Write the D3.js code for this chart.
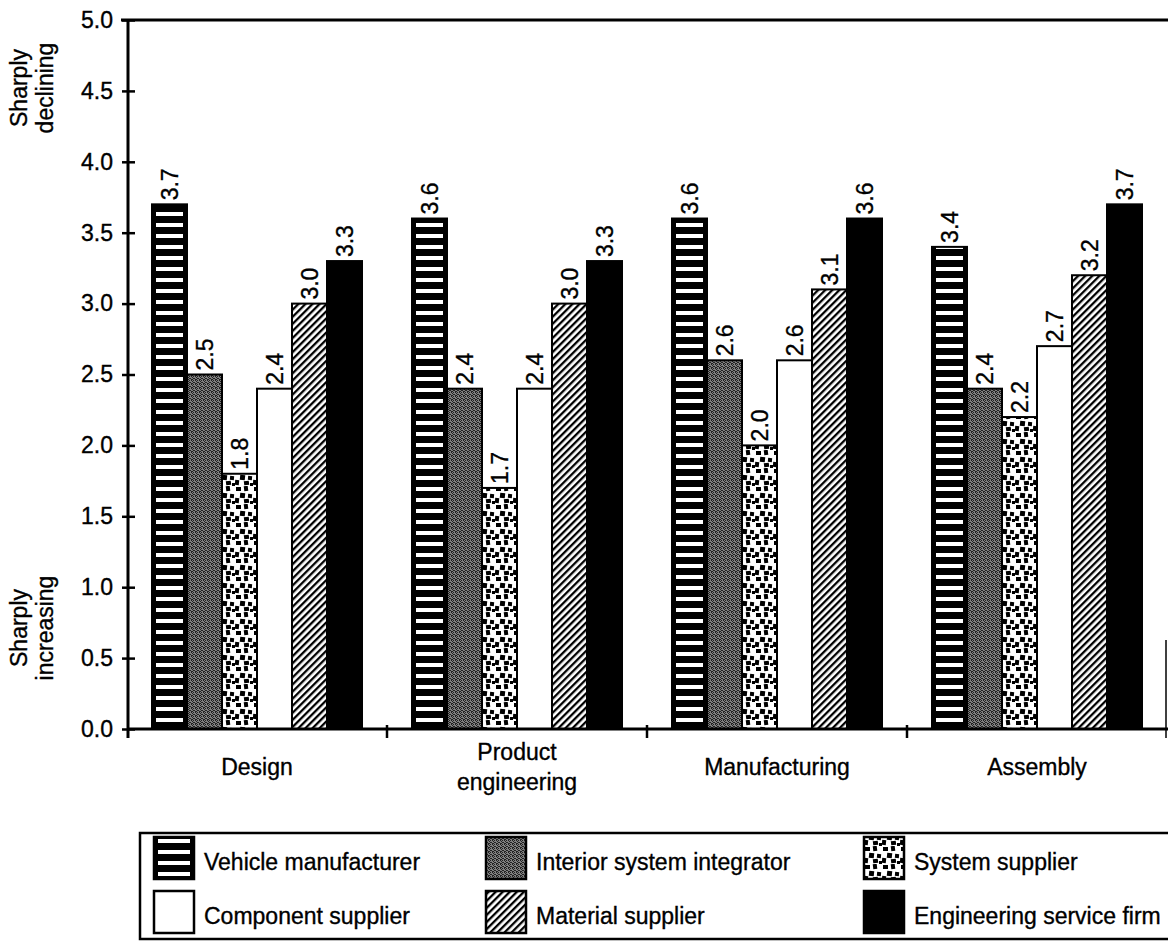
<!DOCTYPE html>
<html>
<head>
<meta charset="utf-8">
<script src="https://cdn.jsdelivr.net/npm/d3@7"></script>
<style>
  html, body { margin: 0; padding: 0; background: #fff; }
  svg { display: block; }
  text { font-family: "Liberation Sans", Arial, Helvetica, sans-serif; fill: #000; stroke: #000; stroke-width: 0.35px; }
</style>
</head>
<body>
<svg id="chart" width="1168" height="941"></svg>
<script>
// Activity categories along the horizontal axis
const categories = ["Design", "Product engineering", "Manufacturing", "Assembly"];
const categoryLines = [["Design"], ["Product", "engineering"], ["Manufacturing"], ["Assembly"]];

// Respondent groups (series)
const seriesNames = [
  "Vehicle manufacturer", "Interior system integrator", "System supplier",
  "Component supplier", "Material supplier", "Engineering service firm"
];

// Mean rating per category for each group
const vehicleManufacturer    = [3.7, 3.6, 3.6, 3.4];
const interiorIntegrator     = [2.5, 2.4, 2.6, 2.4];
const systemSupplier         = [1.8, 1.7, 2.0, 2.2];
const componentSupplier      = [2.4, 2.4, 2.6, 2.7];
const materialSupplier       = [3.0, 3.0, 3.1, 3.2];
const engineeringServiceFirm = [3.3, 3.3, 3.6, 3.7];

// Y axis ticks
const yTickValues = [0, 0.5, 1, 1.5, 2, 2.5, 3, 3.5, 4, 4.5, 5];
const yTickLabels = ["0.0", "0.5", "1.0", "1.5", "2.0", "2.5", "3.0", "3.5", "4.0", "4.5", "5.0"];

const seriesValues = [
  vehicleManufacturer, interiorIntegrator, systemSupplier,
  componentSupplier, materialSupplier, engineeringServiceFirm
];
const fills = ["#000", "url(#pGray)", "url(#pDots)", "#fff", "url(#pHatch)", "#000"];

const svg = d3.select("#chart");
const FONT = 23;

// ---------- patterns ----------
const defs = svg.append("defs");

// white horizontal stripes (overlaid on a black bar)
const ps = defs.append("pattern").attr("id", "pStripeInner")
  .attr("patternUnits", "userSpaceOnUse").attr("width", 10).attr("height", 11);
ps.append("rect").attr("x", 0).attr("y", 3).attr("width", 10).attr("height", 4).attr("fill", "#fff");

// dark stipple
const pg = defs.append("pattern").attr("id", "pGray")
  .attr("patternUnits", "userSpaceOnUse").attr("width", 4).attr("height", 4);
pg.append("rect").attr("width", 4).attr("height", 4).attr("fill", "#808080");
[[0, 0], [2, 0], [1, 1], [3, 2], [0, 3], [2, 2], [1, 3]].forEach(([px, py]) =>
  pg.append("rect").attr("x", px).attr("y", py).attr("width", 1).attr("height", 1).attr("fill", "#222"));

// scattered black squares
const pd = defs.append("pattern").attr("id", "pDots")
  .attr("patternUnits", "userSpaceOnUse").attr("width", 18).attr("height", 18);
pd.append("rect").attr("width", 18).attr("height", 18).attr("fill", "#fff");
[[1, 1, 5, 4], [9, 0, 4, 5], [5, 7, 5, 5], [13, 8, 4, 4], [0, 12, 4, 5], [9, 13, 5, 4], [15, 15, 3, 3]]
  .forEach(([x, y, w, h]) => pd.append("rect").attr("x", x).attr("y", y).attr("width", w).attr("height", h)
    .attr("fill", "#000").attr("transform", `rotate(${(x * 7 + y * 3) % 20 - 10} ${x + w / 2} ${y + h / 2})`));

// diagonal hatch
const ph = defs.append("pattern").attr("id", "pHatch")
  .attr("patternUnits", "userSpaceOnUse").attr("width", 5).attr("height", 5)
  .attr("patternTransform", "rotate(45)");
ph.append("rect").attr("width", 5).attr("height", 5).attr("fill", "#fff");
ph.append("rect").attr("x", 0).attr("y", 0).attr("width", 2.3).attr("height", 5).attr("fill", "#000");

// ---------- scales ----------
const x0 = d3.scaleBand().domain(categories).range([127, 1167]).paddingInner(0).paddingOuter(0);
const inner = 25;
const x1 = d3.scaleBand().domain(seriesNames)
  .range([inner, x0.bandwidth() - inner]).padding(0);
const y = d3.scaleLinear().domain([0, 5]).range([729, 20]);
const baseY = y(0);

// ---------- bars ----------
const groups = svg.append("g").selectAll("g").data(categories).join("g")
  .attr("transform", d => `translate(${x0(d)},0)`);

groups.each(function (cat, ci) {
  const g = d3.select(this);
  seriesNames.forEach((s, si) => {
    const v = seriesValues[si][ci];
    const bx = x1(s), bw = x1.bandwidth(), by = y(v);
    g.append("rect")
      .attr("x", bx).attr("y", by).attr("width", bw).attr("height", baseY - by)
      .attr("fill", fills[si]).attr("stroke", "#000").attr("stroke-width", 2);
    if (si === 0) {
      g.append("rect")
        .attr("x", bx + 4).attr("y", by + 1).attr("width", bw - 8).attr("height", baseY - by - 2)
        .attr("fill", "url(#pStripeInner)");
    }
    g.append("text")
      .attr("transform", `translate(${bx + bw / 2},${by - 4}) rotate(-90)`)
      .attr("dy", "0.36em")
      .attr("text-anchor", "start")
      .attr("font-size", FONT)
      .text(v.toFixed(1));
  });
});

// ---------- axes ----------
// frame top line
svg.append("line").attr("x1", 121).attr("x2", 1168).attr("y1", 20).attr("y2", 20)
  .attr("stroke", "#000").attr("stroke-width", 3);

const yAxis = d3.axisLeft(y).tickValues(yTickValues)
  .tickFormat((d, i) => yTickLabels[i]).tickSize(0).tickPadding(0);
const ya = svg.append("g").attr("transform", "translate(128,0)").call(yAxis);
ya.select(".domain").remove();
ya.selectAll(".tick line").attr("x1", -6).attr("x2", 7).attr("stroke", "#000").attr("stroke-width", 2.5);
ya.selectAll(".tick text").attr("x", -15).attr("font-size", FONT)
  .attr("font-family", "Liberation Sans, Arial, sans-serif").attr("fill", "#000");
svg.append("line").attr("x1", 128).attr("x2", 128).attr("y1", 19).attr("y2", 738)
  .attr("stroke", "#000").attr("stroke-width", 3);

// bottom axis
svg.append("line").attr("x1", 127).attr("x2", 1168).attr("y1", baseY).attr("y2", baseY)
  .attr("stroke", "#000").attr("stroke-width", 3);
const bounds = categories.map(c => x0(c)).concat([x0.range()[1]]).slice(1);
svg.append("g").selectAll("line").data(bounds).join("line")
  .attr("x1", d => Math.min(d, 1166)).attr("x2", d => Math.min(d, 1166))
  .attr("y1", d => d >= 1166 ? 640 : baseY - 4).attr("y2", 738)
  .attr("stroke", "#000").attr("stroke-width", d => d >= 1166 ? 1.5 : 2.5);

// category labels
const cl = svg.append("g").selectAll("text").data(categories).join("text")
  .attr("text-anchor", "middle").attr("font-size", FONT)
  .attr("x", d => x0(d) + x0.bandwidth() / 2);
cl.each(function (d, i) {
  const lines = categoryLines[i];
  const t = d3.select(this);
  const top = lines.length === 1 ? 775 : 760;
  lines.forEach((ln, li) => {
    t.append("tspan").attr("x", x0(d) + x0.bandwidth() / 2).attr("y", top + li * 30).text(ln);
  });
});

// side annotations
function sideNote(lines, cy) {
  lines.forEach((ln, i) => {
    svg.append("text")
      .attr("transform", `translate(${27 + i * 26},${cy}) rotate(-90)`)
      .attr("text-anchor", "middle").attr("font-size", FONT).text(ln);
  });
}
sideNote(["Sharply", "declining"], 88);
sideNote(["Sharply", "increasing"], 628);

// ---------- legend ----------
svg.append("rect").attr("x", 140).attr("y", 833).attr("width", 1040).attr("height", 106)
  .attr("fill", "none").attr("stroke", "#000").attr("stroke-width", 2.5);
const colX = [154, 486, 864];
const rowY = [837, 891];
seriesNames.forEach((s, i) => {
  const cx = colX[i % 3], ry = rowY[Math.floor(i / 3)];
  svg.append("rect").attr("x", cx).attr("y", ry).attr("width", 40).attr("height", 42)
    .attr("fill", fills[i]).attr("stroke", "#000").attr("stroke-width", 2.5);
  if (i === 0) {
    svg.append("rect").attr("x", cx + 4).attr("y", ry + 2).attr("width", 32).attr("height", 38)
      .attr("fill", "url(#pStripeInner)");
  }
  svg.append("text").attr("x", cx + 50).attr("y", ry + 33).attr("font-size", FONT).text(s);
});
</script>
</body>
</html>
